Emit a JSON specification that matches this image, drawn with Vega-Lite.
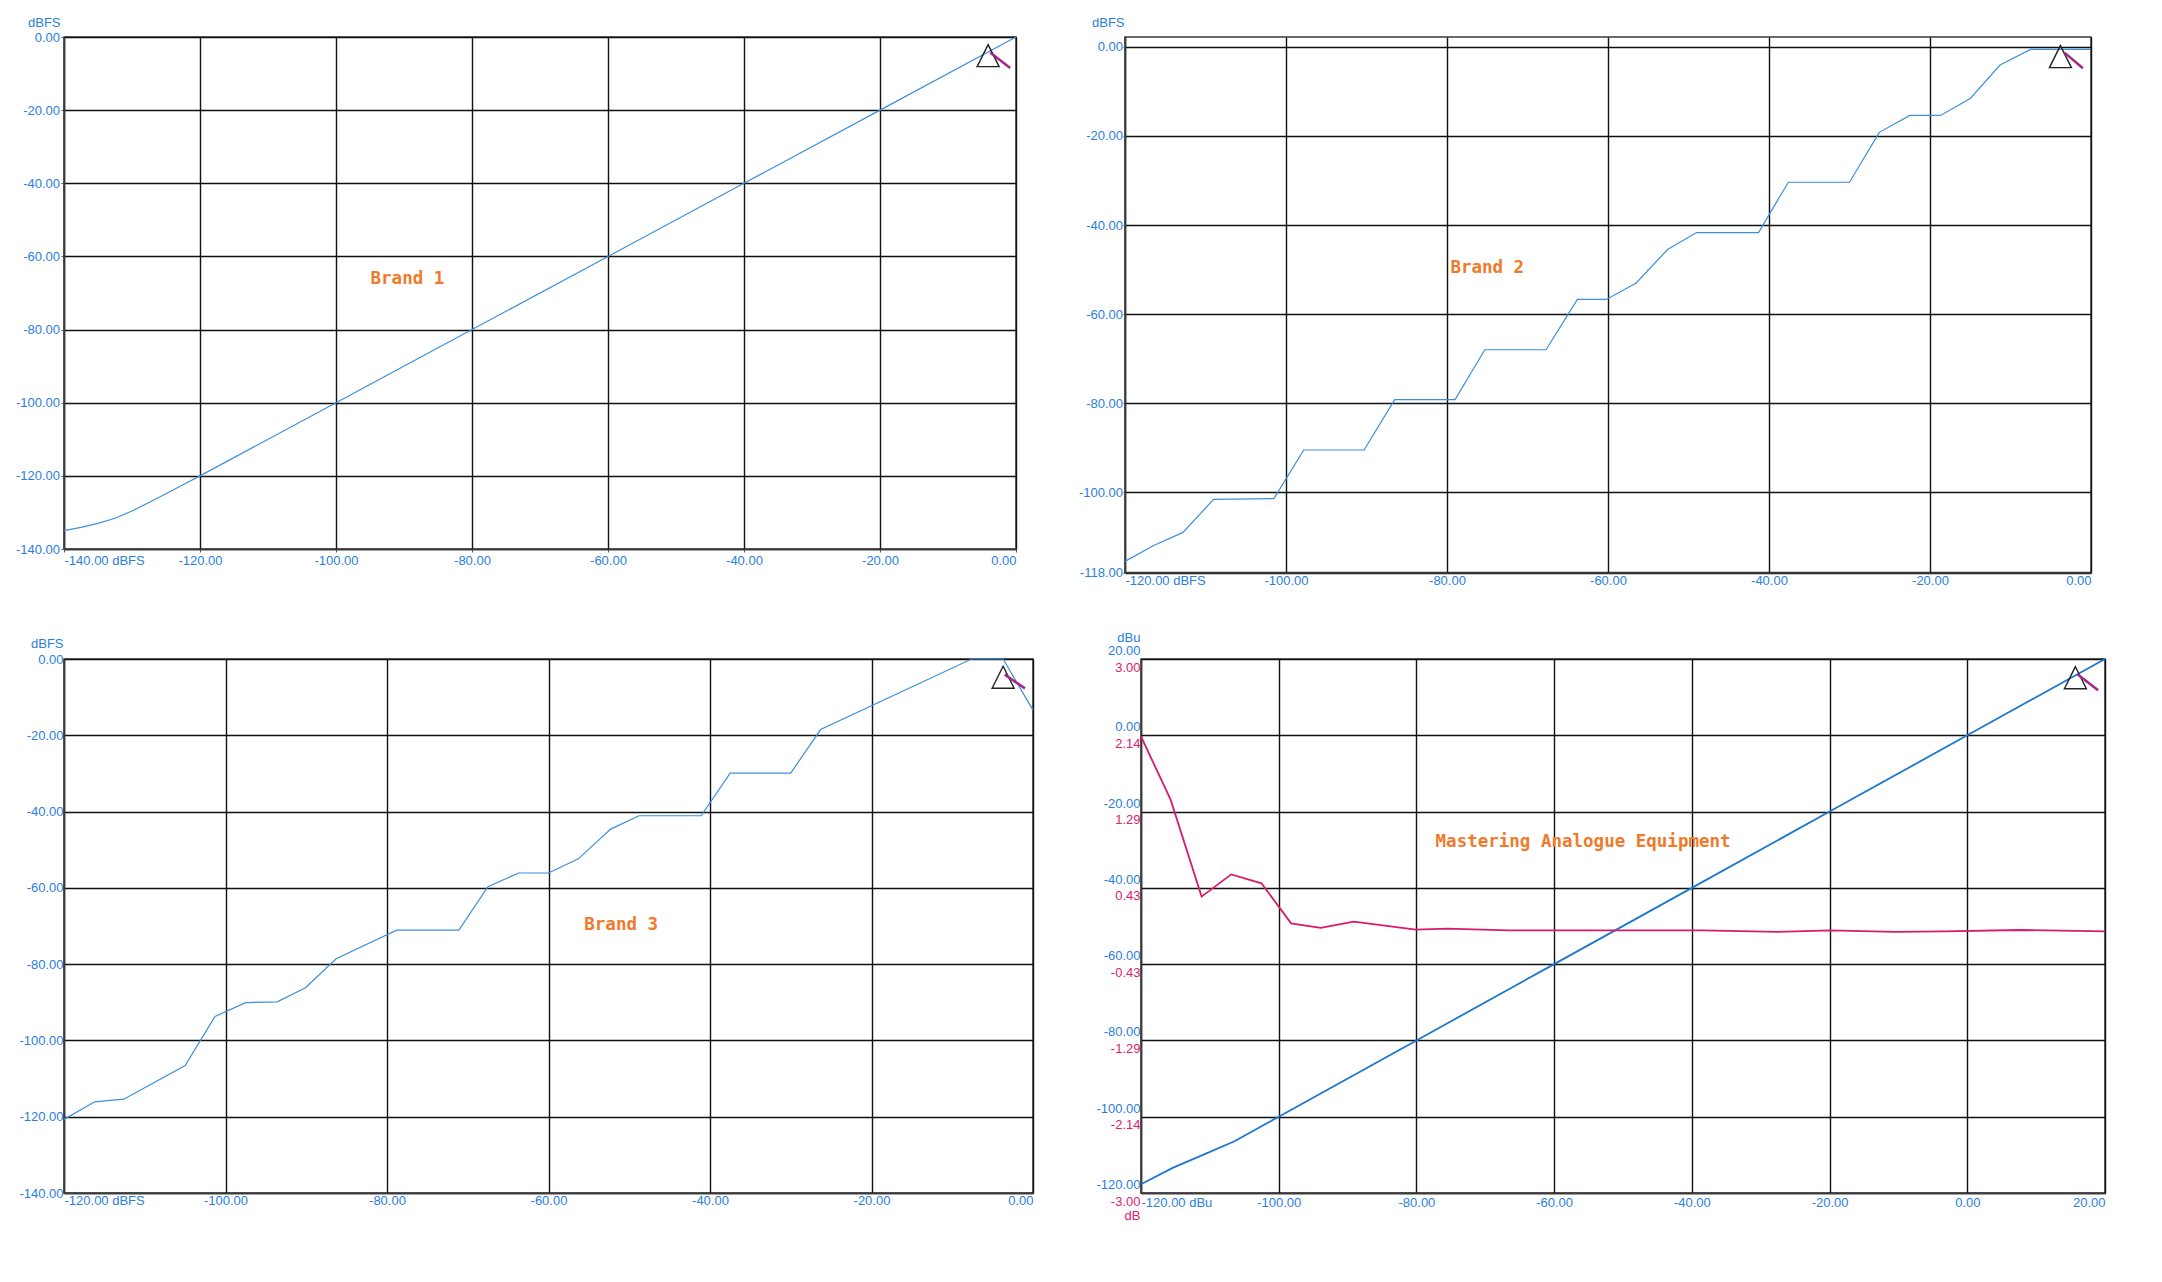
{
  "$schema": "https://vega.github.io/schema/vega-lite/v6.json",
  "background": "white",
  "padding": {"left": 14, "top": 15, "right": 20, "bottom": 20},
  "config": {
    "view": {"stroke": "#3a3a3a", "strokeWidth": 1.5},
    "axis": {
      "labelFont": "Liberation Sans", "labelFontSize": 13, "labelColor": "#2a7ee0",
      "titleFont": "Liberation Sans", "titleFontSize": 13, "titleFontWeight": "normal", "titleColor": "#2a7ee0",
      "gridColor": "#111111", "gridWidth": 1.4, "gridOpacity": 1,
      "domainColor": "#3a3a3a", "domainWidth": 1.5,
      "tickColor": "#555555", "tickSize": 3,
      "labelOverlap": false, "labelBound": false
    }
  },
  "datasets": {
    "brand1": [
      {"x": -140, "y": -135}, {"x": -137.5, "y": -134.1}, {"x": -135, "y": -133}, {"x": -132.5, "y": -131.6},
      {"x": -130, "y": -129.6}, {"x": -127.5, "y": -127.3}, {"x": -125, "y": -124.9}, {"x": -122.5, "y": -122.45},
      {"x": -120, "y": -120}, {"x": -100, "y": -100}, {"x": -80, "y": -80}, {"x": -60, "y": -60},
      {"x": -40, "y": -40}, {"x": -20, "y": -20}, {"x": 0, "y": 0}
    ],
    "brand2": [
      {"x": -120, "y": -115.5}, {"x": -116.5, "y": -112.0}, {"x": -112.8, "y": -109.0}, {"x": -109, "y": -101.6},
      {"x": -101.5, "y": -101.4}, {"x": -97.8, "y": -90.5}, {"x": -90.3, "y": -90.5}, {"x": -86.5, "y": -79.2},
      {"x": -79, "y": -79.2}, {"x": -75.3, "y": -68.0}, {"x": -67.7, "y": -68.0}, {"x": -63.8, "y": -56.7},
      {"x": -60.2, "y": -56.7}, {"x": -56.5, "y": -53.0}, {"x": -52.6, "y": -45.5}, {"x": -49, "y": -41.7},
      {"x": -41.3, "y": -41.7}, {"x": -37.6, "y": -30.4}, {"x": -30, "y": -30.4}, {"x": -26.3, "y": -19.2},
      {"x": -22.5, "y": -15.4}, {"x": -18.7, "y": -15.4}, {"x": -15, "y": -11.6}, {"x": -11.3, "y": -4.1},
      {"x": -7.5, "y": -0.6}, {"x": 0, "y": -0.6}
    ],
    "brand3": [
      {"x": -120, "y": -120.7}, {"x": -116.2, "y": -116.1}, {"x": -112.6, "y": -115.4}, {"x": -105, "y": -106.6},
      {"x": -101.3, "y": -93.7}, {"x": -97.5, "y": -90.1}, {"x": -93.6, "y": -89.9}, {"x": -90.1, "y": -86.2},
      {"x": -86.3, "y": -78.6}, {"x": -78.8, "y": -71.1}, {"x": -71.1, "y": -71.1}, {"x": -67.5, "y": -59.7},
      {"x": -63.7, "y": -56.1}, {"x": -60, "y": -56.1}, {"x": -56.3, "y": -52.4}, {"x": -52.3, "y": -44.6},
      {"x": -48.8, "y": -41.1}, {"x": -41.1, "y": -41.1}, {"x": -37.5, "y": -29.9}, {"x": -30, "y": -29.9},
      {"x": -26.3, "y": -18.5}, {"x": -7.6, "y": 0}, {"x": -3.7, "y": 0}, {"x": 0, "y": -13.4}
    ],
    "level": [
      {"x": -120, "y": -117.7}, {"x": -115.4, "y": -113.4}, {"x": -111, "y": -110}, {"x": -106.5, "y": -106.5},
      {"x": -100, "y": -100}, {"x": -80, "y": -80}, {"x": -60, "y": -60}, {"x": -40, "y": -40},
      {"x": -20, "y": -20}, {"x": 0, "y": 0}, {"x": 20, "y": 20}
    ],
    "deviation": [
      {"x": -120, "db": 2.13}, {"x": -115.7, "db": 1.42}, {"x": -111.2, "db": 0.33}, {"x": -106.9, "db": 0.58},
      {"x": -102.5, "db": 0.48}, {"x": -98.2, "db": 0.03}, {"x": -93.9, "db": -0.02}, {"x": -89.1, "db": 0.05},
      {"x": -80.1, "db": -0.04}, {"x": -75.6, "db": -0.03}, {"x": -66.6, "db": -0.05}, {"x": -58.5, "db": -0.05},
      {"x": -48.5, "db": -0.05}, {"x": -38.5, "db": -0.05}, {"x": -27.5, "db": -0.065}, {"x": -20, "db": -0.05},
      {"x": -10.5, "db": -0.065}, {"x": -3.4, "db": -0.06}, {"x": 7.6, "db": -0.045}, {"x": 20, "db": -0.06}
    ],
    "tri": [
      {"panel": "Brand 1", "x": -4.1, "y": -5.1},
      {"panel": "Brand 2", "x": -3.8, "y": -2.2},
      {"panel": "Brand 3", "x": -3.7, "y": -4.8},
      {"panel": "Mastering", "x": 15.7, "y": 15.1}
    ],
    "slash": [
      {"panel": "Brand 1", "o": 1, "x": -3.8, "y": -4.25}, {"panel": "Brand 1", "o": 2, "x": -0.85, "y": -8.45},
      {"panel": "Brand 2", "o": 1, "x": -3.3, "y": -1.3}, {"panel": "Brand 2", "o": 2, "x": -1.0, "y": -4.8},
      {"panel": "Brand 3", "o": 1, "x": -3.5, "y": -4.1}, {"panel": "Brand 3", "o": 2, "x": -1.0, "y": -7.7},
      {"panel": "Mastering", "o": 1, "x": 16.0, "y": 16.0}, {"panel": "Mastering", "o": 2, "x": 19.0, "y": 11.8}
    ],
    "notes": [
      {"panel": "Brand 1", "x": -89.5, "y": -66.3, "text": "Brand 1"},
      {"panel": "Brand 2", "x": -75, "y": -49.6, "text": "Brand 2"},
      {"panel": "Brand 3", "x": -51, "y": -69.8, "text": "Brand 3"},
      {"panel": "Mastering", "x": -55.8, "y": -28.1, "text": "Mastering Analogue Equipment"}
    ]
  },
  "spacing": 41,
  "vconcat": [
    {
      "hconcat": [
        {
          "width": 952, "height": 512,
          "layer": [
            {
              "data": {"name": "brand1"},
              "mark": {"type": "line", "color": "#3d8fdc", "strokeWidth": 1.2},
              "encoding": {
                "x": {"field": "x", "type": "quantitative", "scale": {"domain": [-140, 0], "nice": false, "zero": false},
                  "axis": {"values": [-140, -120, -100, -80, -60, -40, -20, 0], "labelExpr": "datum.value == -140 ? '-140.00 dBFS' : replace(format(datum.value, '.2f'), '\u2212', '-')", "labelFlush": true, "title": null, "tickSize": 3, "labelPadding": 2.5}},
                "y": {"field": "y", "type": "quantitative", "scale": {"domain": [-140, 0], "nice": false, "zero": false},
                  "axis": {"values": [-140, -120, -100, -80, -60, -40, -20, 0], "labelExpr": "replace(format(datum.value, '.2f'), '\u2212', '-')", "title": "dBFS", "titleAngle": 0, "titleAlign": "right", "titleBaseline": "middle", "titleX": -4, "titleY": -14.5, "tickSize": 3, "labelPadding": 1.5}}
              }
            },
            {
              "data": {"name": "tri"}, "transform": [{"filter": "datum.panel == 'Brand 1'"}],
              "mark": {"type": "point", "shape": "M0,-1L1,1L-1,1Z", "size": 484, "filled": false, "stroke": "#222222", "strokeWidth": 1.4, "opacity": 1},
              "encoding": {"x": {"field": "x", "type": "quantitative"}, "y": {"field": "y", "type": "quantitative"}}
            },
            {
              "data": {"name": "slash"}, "transform": [{"filter": "datum.panel == 'Brand 1'"}],
              "mark": {"type": "line", "color": "#a02888", "strokeWidth": 2.5},
              "encoding": {"x": {"field": "x", "type": "quantitative"}, "y": {"field": "y", "type": "quantitative"}, "order": {"field": "o"}}
            },
            {
              "data": {"name": "notes"}, "transform": [{"filter": "datum.panel == 'Brand 1'"}],
              "mark": {"type": "text", "font": "DejaVu Sans Mono", "fontSize": 17.5, "fontWeight": "bold", "color": "#f07a2a", "align": "center", "baseline": "middle"},
              "encoding": {"x": {"field": "x", "type": "quantitative"}, "y": {"field": "y", "type": "quantitative"}, "text": {"field": "text"}}
            }
          ]
        },
        {
          "width": 966, "height": 535.5,
          "layer": [
            {
              "data": {"name": "brand2"},
              "mark": {"type": "line", "color": "#3d8fdc", "strokeWidth": 1.2},
              "encoding": {
                "x": {"field": "x", "type": "quantitative", "scale": {"domain": [-120, 0], "nice": false, "zero": false},
                  "axis": {"values": [-120, -100, -80, -60, -40, -20, 0], "labelExpr": "datum.value == -120 ? '-120.00 dBFS' : replace(format(datum.value, '.2f'), '\u2212', '-')", "labelFlush": true, "title": null, "ticks": false, "labelPadding": 2}},
                "y": {"field": "y", "type": "quantitative", "scale": {"domain": [-118, 2.2], "nice": false, "zero": false},
                  "axis": {"values": [-118, -100, -80, -60, -40, -20, 0], "labelExpr": "replace(format(datum.value, '.2f'), '\u2212', '-')", "title": "dBFS", "titleAngle": 0, "titleAlign": "right", "titleBaseline": "middle", "titleX": -1, "titleY": -14.7, "tickSize": 2, "labelPadding": 0.5}}
              }
            },
            {
              "data": {"name": "tri"}, "transform": [{"filter": "datum.panel == 'Brand 2'"}],
              "mark": {"type": "point", "shape": "M0,-1L1,1L-1,1Z", "size": 484, "filled": false, "stroke": "#222222", "strokeWidth": 1.4, "opacity": 1},
              "encoding": {"x": {"field": "x", "type": "quantitative"}, "y": {"field": "y", "type": "quantitative"}}
            },
            {
              "data": {"name": "slash"}, "transform": [{"filter": "datum.panel == 'Brand 2'"}],
              "mark": {"type": "line", "color": "#a02888", "strokeWidth": 2.5},
              "encoding": {"x": {"field": "x", "type": "quantitative"}, "y": {"field": "y", "type": "quantitative"}, "order": {"field": "o"}}
            },
            {
              "data": {"name": "notes"}, "transform": [{"filter": "datum.panel == 'Brand 2'"}],
              "mark": {"type": "text", "font": "DejaVu Sans Mono", "fontSize": 17.5, "fontWeight": "bold", "color": "#f07a2a", "align": "center", "baseline": "middle"},
              "encoding": {"x": {"field": "x", "type": "quantitative"}, "y": {"field": "y", "type": "quantitative"}, "text": {"field": "text"}}
            }
          ]
        }
      ],
      "spacing": 109,
      "bounds": "flush"
    },
    {
      "hconcat": [
        {
          "width": 969, "height": 534,
          "layer": [
            {
              "data": {"name": "brand3"},
              "mark": {"type": "line", "color": "#3d8fdc", "strokeWidth": 1.2},
              "encoding": {
                "x": {"field": "x", "type": "quantitative", "scale": {"domain": [-120, 0], "nice": false, "zero": false},
                  "axis": {"values": [-120, -100, -80, -60, -40, -20, 0], "labelExpr": "datum.value == -120 ? '-120.00 dBFS' : replace(format(datum.value, '.2f'), '\u2212', '-')", "labelFlush": true, "title": null, "ticks": false, "labelPadding": 1.5}},
                "y": {"field": "y", "type": "quantitative", "scale": {"domain": [-140, 0], "nice": false, "zero": false},
                  "axis": {"values": [-140, -120, -100, -80, -60, -40, -20, 0], "labelExpr": "replace(format(datum.value, '.2f'), '\u2212', '-')", "title": "dBFS", "titleAngle": 0, "titleAlign": "right", "titleBaseline": "middle", "titleX": -1, "titleY": -15.5, "ticks": false, "labelPadding": 1}}
              }
            },
            {
              "data": {"name": "tri"}, "transform": [{"filter": "datum.panel == 'Brand 3'"}],
              "mark": {"type": "point", "shape": "M0,-1L1,1L-1,1Z", "size": 484, "filled": false, "stroke": "#222222", "strokeWidth": 1.4, "opacity": 1},
              "encoding": {"x": {"field": "x", "type": "quantitative"}, "y": {"field": "y", "type": "quantitative"}}
            },
            {
              "data": {"name": "slash"}, "transform": [{"filter": "datum.panel == 'Brand 3'"}],
              "mark": {"type": "line", "color": "#a02888", "strokeWidth": 2.5},
              "encoding": {"x": {"field": "x", "type": "quantitative"}, "y": {"field": "y", "type": "quantitative"}, "order": {"field": "o"}}
            },
            {
              "data": {"name": "notes"}, "transform": [{"filter": "datum.panel == 'Brand 3'"}],
              "mark": {"type": "text", "font": "DejaVu Sans Mono", "fontSize": 17.5, "fontWeight": "bold", "color": "#f07a2a", "align": "center", "baseline": "middle"},
              "encoding": {"x": {"field": "x", "type": "quantitative"}, "y": {"field": "y", "type": "quantitative"}, "text": {"field": "text"}}
            }
          ]
        },
        {
          "width": 964, "height": 534,
          "layer": [
            {
              "layer": [
                {
                  "data": {"name": "level"},
                  "mark": {"type": "line", "color": "#1d77d0", "strokeWidth": 1.8},
                  "encoding": {
                    "x": {"field": "x", "type": "quantitative", "scale": {"domain": [-120, 20], "nice": false, "zero": false},
                      "axis": {"values": [-120, -100, -80, -60, -40, -20, 0, 20], "labelExpr": "datum.value == -120 ? '-120.00 dBu' : replace(format(datum.value, '.2f'), '\u2212', '-')", "labelFlush": true, "title": null, "ticks": false, "labelPadding": 3}},
                    "y": {"field": "y", "type": "quantitative", "scale": {"domain": [-120, 20], "nice": false, "zero": false},
                      "axis": {"values": [-120, -100, -80, -60, -40, -20, 0, 20], "labelExpr": "replace(format(datum.value, '.2f'), '\u2212', '-')", "labelOffset": -8.5, "title": "dBu", "titleAngle": 0, "titleAlign": "right", "titleBaseline": "middle", "titleX": -1, "titleY": -22, "ticks": false, "labelPadding": 1}}
                  }
                },
                {
                  "data": {"name": "tri"}, "transform": [{"filter": "datum.panel == 'Mastering'"}],
                  "mark": {"type": "point", "shape": "M0,-1L1,1L-1,1Z", "size": 484, "filled": false, "stroke": "#222222", "strokeWidth": 1.4, "opacity": 1},
                  "encoding": {"x": {"field": "x", "type": "quantitative"}, "y": {"field": "y", "type": "quantitative"}}
                },
                {
                  "data": {"name": "slash"}, "transform": [{"filter": "datum.panel == 'Mastering'"}],
                  "mark": {"type": "line", "color": "#a02888", "strokeWidth": 2.5},
                  "encoding": {"x": {"field": "x", "type": "quantitative"}, "y": {"field": "y", "type": "quantitative"}, "order": {"field": "o"}}
                },
                {
                  "data": {"name": "notes"}, "transform": [{"filter": "datum.panel == 'Mastering'"}],
                  "mark": {"type": "text", "font": "DejaVu Sans Mono", "fontSize": 17.5, "fontWeight": "bold", "color": "#f07a2a", "align": "center", "baseline": "middle"},
                  "encoding": {"x": {"field": "x", "type": "quantitative"}, "y": {"field": "y", "type": "quantitative"}, "text": {"field": "text"}}
                }
              ]
            },
            {
              "data": {"name": "deviation"},
              "mark": {"type": "line", "color": "#d81b6a", "strokeWidth": 1.8},
              "encoding": {
                "x": {"field": "x", "type": "quantitative"},
                "y": {"field": "db", "type": "quantitative", "scale": {"domain": [-3, 3], "nice": false, "zero": false},
                  "axis": {"orient": "left", "values": [-3, -2.142857, -1.285714, -0.428571, 0.428571, 1.285714, 2.142857, 3], "labelExpr": "replace(format(datum.value, '.2f'), '\u2212', '-')", "labelColor": "#e0206e", "labelOffset": 8, "grid": false, "domain": false, "ticks": false, "labelPadding": 1, "title": "dB", "titleColor": "#e0206e", "titleAngle": 0, "titleAlign": "right", "titleBaseline": "middle", "titleX": -1, "titleY": 556}}
              }
            }
          ],
          "resolve": {"scale": {"y": "independent"}, "axis": {"y": "independent"}}
        }
      ],
      "spacing": 108,
      "bounds": "flush"
    }
  ]
}
